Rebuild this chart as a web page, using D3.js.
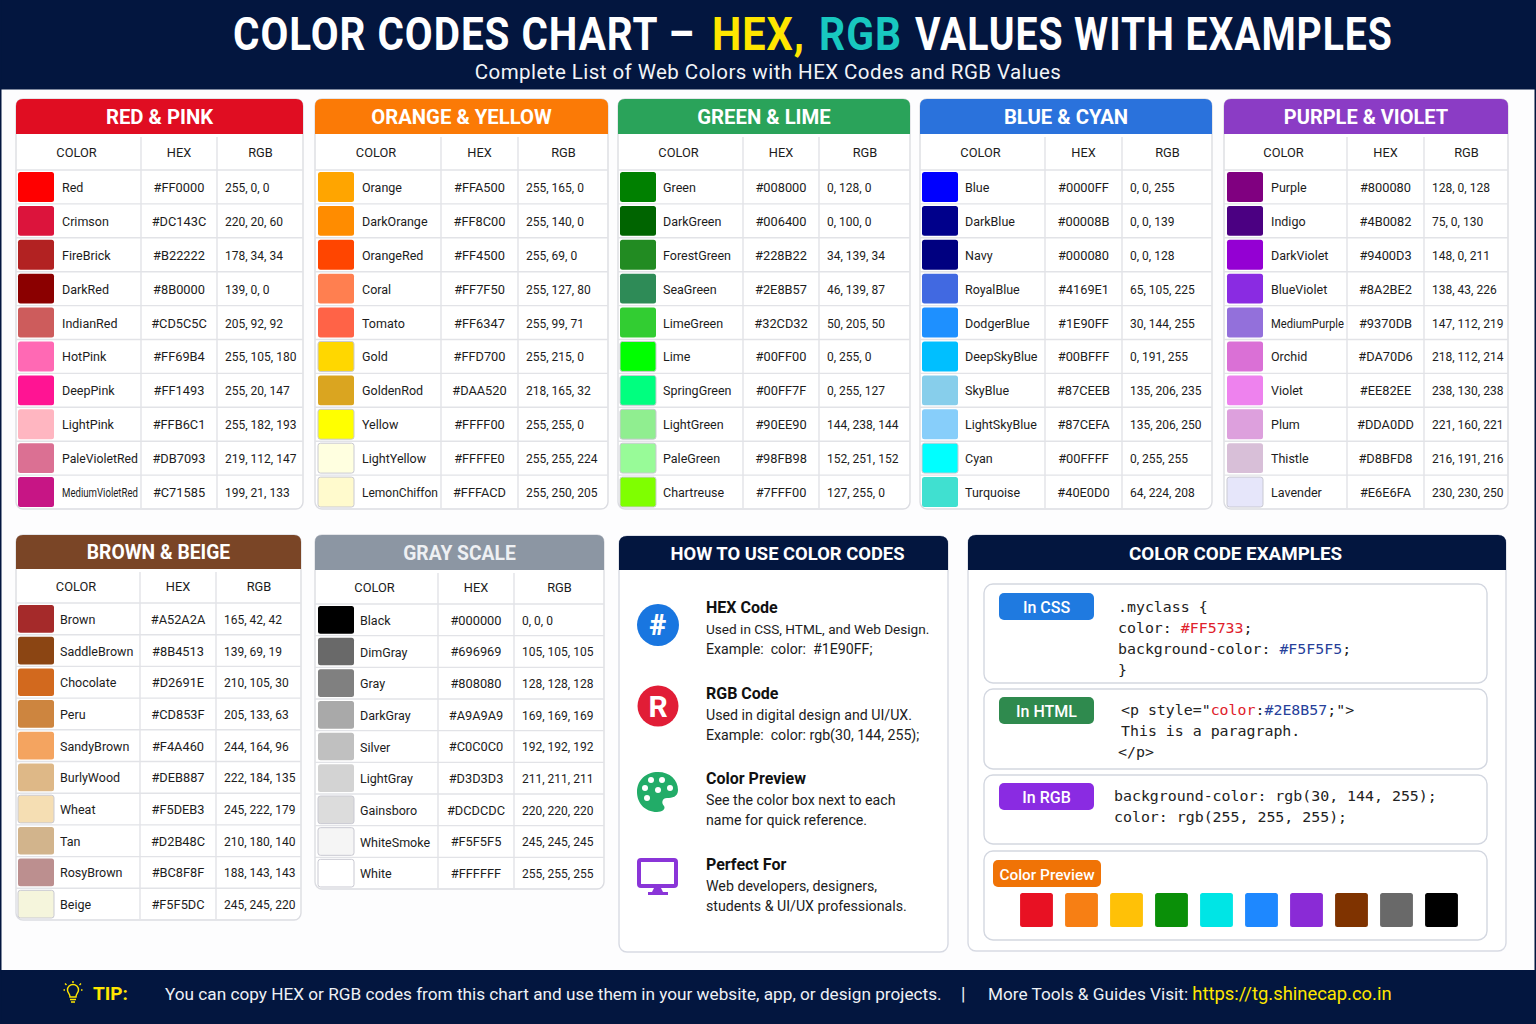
<!DOCTYPE html>
<html>
<head>
<meta charset="utf-8">
<script src="https://cdn.jsdelivr.net/npm/d3@7"></script>
<style>
  html, body { margin: 0; padding: 0; background: #fdfdfe; }
  svg { display: block; font-family: Roboto, sans-serif; }
  .code { font-family: "DejaVu Sans Mono", monospace; font-size: 14.9px; fill: #222; }
</style>
</head>
<body>
<div id="chart"></div>
<script>
// ---- data ----
var columnLabels = ["COLOR", "HEX", "RGB"];

var redNames = ["Red", "Crimson", "FireBrick", "DarkRed", "IndianRed", "HotPink", "DeepPink", "LightPink", "PaleVioletRed", "MediumVioletRed"];
var redHex = ["#FF0000", "#DC143C", "#B22222", "#8B0000", "#CD5C5C", "#FF69B4", "#FF1493", "#FFB6C1", "#DB7093", "#C71585"];
var redRgb = ["255, 0, 0", "220, 20, 60", "178, 34, 34", "139, 0, 0", "205, 92, 92", "255, 105, 180", "255, 20, 147", "255, 182, 193", "219, 112, 147", "199, 21, 133"];

var orangeNames = ["Orange", "DarkOrange", "OrangeRed", "Coral", "Tomato", "Gold", "GoldenRod", "Yellow", "LightYellow", "LemonChiffon"];
var orangeHex = ["#FFA500", "#FF8C00", "#FF4500", "#FF7F50", "#FF6347", "#FFD700", "#DAA520", "#FFFF00", "#FFFFE0", "#FFFACD"];
var orangeRgb = ["255, 165, 0", "255, 140, 0", "255, 69, 0", "255, 127, 80", "255, 99, 71", "255, 215, 0", "218, 165, 32", "255, 255, 0", "255, 255, 224", "255, 250, 205"];

var greenNames = ["Green", "DarkGreen", "ForestGreen", "SeaGreen", "LimeGreen", "Lime", "SpringGreen", "LightGreen", "PaleGreen", "Chartreuse"];
var greenHex = ["#008000", "#006400", "#228B22", "#2E8B57", "#32CD32", "#00FF00", "#00FF7F", "#90EE90", "#98FB98", "#7FFF00"];
var greenRgb = ["0, 128, 0", "0, 100, 0", "34, 139, 34", "46, 139, 87", "50, 205, 50", "0, 255, 0", "0, 255, 127", "144, 238, 144", "152, 251, 152", "127, 255, 0"];

var blueNames = ["Blue", "DarkBlue", "Navy", "RoyalBlue", "DodgerBlue", "DeepSkyBlue", "SkyBlue", "LightSkyBlue", "Cyan", "Turquoise"];
var blueHex = ["#0000FF", "#00008B", "#000080", "#4169E1", "#1E90FF", "#00BFFF", "#87CEEB", "#87CEFA", "#00FFFF", "#40E0D0"];
var blueRgb = ["0, 0, 255", "0, 0, 139", "0, 0, 128", "65, 105, 225", "30, 144, 255", "0, 191, 255", "135, 206, 235", "135, 206, 250", "0, 255, 255", "64, 224, 208"];

var purpleNames = ["Purple", "Indigo", "DarkViolet", "BlueViolet", "MediumPurple", "Orchid", "Violet", "Plum", "Thistle", "Lavender"];
var purpleHex = ["#800080", "#4B0082", "#9400D3", "#8A2BE2", "#9370DB", "#DA70D6", "#EE82EE", "#DDA0DD", "#D8BFD8", "#E6E6FA"];
var purpleRgb = ["128, 0, 128", "75, 0, 130", "148, 0, 211", "138, 43, 226", "147, 112, 219", "218, 112, 214", "238, 130, 238", "221, 160, 221", "216, 191, 216", "230, 230, 250"];

var brownNames = ["Brown", "SaddleBrown", "Chocolate", "Peru", "SandyBrown", "BurlyWood", "Wheat", "Tan", "RosyBrown", "Beige"];
var brownHex = ["#A52A2A", "#8B4513", "#D2691E", "#CD853F", "#F4A460", "#DEB887", "#F5DEB3", "#D2B48C", "#BC8F8F", "#F5F5DC"];
var brownRgb = ["165, 42, 42", "139, 69, 19", "210, 105, 30", "205, 133, 63", "244, 164, 96", "222, 184, 135", "245, 222, 179", "210, 180, 140", "188, 143, 143", "245, 245, 220"];

var grayNames = ["Black", "DimGray", "Gray", "DarkGray", "Silver", "LightGray", "Gainsboro", "WhiteSmoke", "White"];
var grayHex = ["#000000", "#696969", "#808080", "#A9A9A9", "#C0C0C0", "#D3D3D3", "#DCDCDC", "#F5F5F5", "#FFFFFF"];
var grayRgb = ["0, 0, 0", "105, 105, 105", "128, 128, 128", "169, 169, 169", "192, 192, 192", "211, 211, 211", "220, 220, 220", "245, 245, 245", "255, 255, 255"];

var previewColors = ["#E81123", "#F77F14", "#FFC107", "#0A8F08", "#00E5E5", "#1E88FF", "#8A2BD6", "#7F3300", "#696969", "#000000"];

var howTitles = ["HEX Code", "RGB Code", "Color Preview", "Perfect For"];
var howLines1 = ["Used in CSS, HTML, and Web Design.", "Used in digital design and UI/UX.", "See the color box next to each", "Web developers, designers,"];
var howLines2 = ["Example:  color:  #1E90FF;", "Example:  color: rgb(30, 144, 255);", "name for quick reference.", "students & UI/UX professionals."];

var titleParts = ["COLOR CODES CHART –", "HEX,", "RGB", "VALUES WITH EXAMPLES"];

// ---- page ----
var navy = "#03163f";
var svg = d3.select("#chart").append("svg")
  .attr("width", 1536)
  .attr("height", 1024);

svg.append("rect").attr("width", 1536).attr("height", 1024).attr("fill", "#fdfdfe");

// top banner
svg.append("rect").attr("width", 1536).attr("height", 89.5).attr("fill", navy);

// the title is condensed, so every part gets stretched onto its own span
var titleFills = ["#fff", "#ffe600", "#18c8c0", "#fff"];
var titleSpans = [[233, 695], [712, 805], [819, 902], [915, 1393]];
svg.selectAll("text.title").data(titleParts).enter().append("text")
  .attr("class", "title")
  .attr("font-size", 46)
  .attr("font-weight", 700)
  .attr("letter-spacing", 1.1)
  .attr("fill", function(d, i) { return titleFills[i]; })
  .text(function(d) { return d; })
  .each(function(d, i) {
    var w = this.getComputedTextLength(), s = titleSpans[i];
    d3.select(this).attr("transform", "translate(" + s[0] + ",50) scale(" + ((s[1] - s[0]) / w) + ",1)");
  });

svg.append("text")
  .attr("x", 768).attr("y", 79)
  .attr("text-anchor", "middle")
  .attr("font-size", 20.5)
  .attr("letter-spacing", 0.45)
  .attr("fill", "#f2f4f8")
  .text("Complete List of Web Colors with HEX Codes and RGB Values");

// ---- colour tables ----
var tables = [
  {title: "RED & PINK", fill: "#e00d22", names: redNames, hex: redHex, rgb: redRgb, x0: 16, x1: 303, c1: 141, c2: 217, y0: 99, y1: 134, y2: 170, y3: 509, sx: 18, nx: 62, ts: 20.3},
  {title: "ORANGE & YELLOW", fill: "#fb7a06", names: orangeNames, hex: orangeHex, rgb: orangeRgb, x0: 315, x1: 608, c1: 441, c2: 518, y0: 99, y1: 134, y2: 170, y3: 509, sx: 318, nx: 362, ts: 20.3},
  {title: "GREEN & LIME", fill: "#2aa35a", names: greenNames, hex: greenHex, rgb: greenRgb, x0: 618, x1: 910, c1: 743, c2: 819, y0: 99, y1: 134, y2: 170, y3: 509, sx: 620, nx: 663, ts: 20.3},
  {title: "BLUE & CYAN", fill: "#2a72dc", names: blueNames, hex: blueHex, rgb: blueRgb, x0: 920, x1: 1212, c1: 1045, c2: 1122, y0: 99, y1: 134, y2: 170, y3: 509, sx: 922, nx: 965, ts: 20.3},
  {title: "PURPLE & VIOLET", fill: "#8b3cc5", names: purpleNames, hex: purpleHex, rgb: purpleRgb, x0: 1224, x1: 1508, c1: 1347, c2: 1424, y0: 99, y1: 134, y2: 170, y3: 509, sx: 1227, nx: 1271, ts: 20},
  {title: "BROWN & BEIGE", fill: "#7a4526", names: brownNames, hex: brownHex, rgb: brownRgb, x0: 16, x1: 301, c1: 140, c2: 216, y0: 535, y1: 569, y2: 603, y3: 920, sx: 18, nx: 60, ts: 19.3},
  {title: "GRAY SCALE", fill: "#8c96a3", titleFill: "#eef0f3", names: grayNames, hex: grayHex, rgb: grayRgb, x0: 315, x1: 604, c1: 438, c2: 514, y0: 535, y1: 570, y2: 604, y3: 889, sx: 318, nx: 360, ts: 19.3}
];

// rounded top or bottom corners
function panelHead(x0, x1, y0, y1, r) {
  return "M" + x0 + "," + y1 + "V" + (y0 + r) + "Q" + x0 + "," + y0 + " " + (x0 + r) + "," + y0 +
    "H" + (x1 - r) + "Q" + x1 + "," + y0 + " " + x1 + "," + (y0 + r) + "V" + y1 + "Z";
}

function drawTable(t) {
  var g = svg.append("g");
  var line = "#e2e3e7";

  g.append("rect")
    .attr("x", t.x0).attr("y", t.y0)
    .attr("width", t.x1 - t.x0).attr("height", t.y3 - t.y0)
    .attr("rx", 7)
    .attr("fill", "#fff").attr("stroke", "#dcdde2").attr("stroke-width", 1.4);

  g.append("path").attr("d", panelHead(t.x0, t.x1, t.y0, t.y1, 7)).attr("fill", t.fill);
  g.append("text")
    .attr("x", (t.x0 + t.x1) / 2).attr("y", t.y1 - 10.5)
    .attr("text-anchor", "middle")
    .attr("font-size", t.ts).attr("font-weight", 700)
    .attr("fill", t.titleFill || "#fff")
    .text(t.title);

  var y = d3.scaleBand().domain(t.names).range([t.y2, t.y3]);

  // grid
  g.selectAll("line.row").data(t.names).enter().append("line")
    .attr("class", "row")
    .attr("x1", t.x0).attr("x2", t.x1)
    .attr("y1", function(d) { return y(d); })
    .attr("y2", function(d) { return y(d); })
    .attr("stroke", line).attr("stroke-width", 1.4);
  g.selectAll("line.col").data([t.c1, t.c2]).enter().append("line")
    .attr("class", "col")
    .attr("x1", function(d) { return d; }).attr("x2", function(d) { return d; })
    .attr("y1", t.y1 + 3).attr("y2", t.y3 - 1)
    .attr("stroke", line).attr("stroke-width", 1.4);

  // column heads
  var heads = [(t.x0 + t.c1) / 2 - 2, (t.c1 + t.c2) / 2, (t.c2 + t.x1) / 2 + 0.5];
  g.selectAll("text.head").data(columnLabels).enter().append("text")
    .attr("class", "head")
    .attr("x", function(d, i) { return heads[i]; })
    .attr("y", (t.y1 + t.y2) / 2 + 5)
    .attr("text-anchor", "middle")
    .attr("font-size", 12.8)
    .attr("fill", "#1c1c1c")
    .text(function(d) { return d; });

  // rows
  var rows = g.selectAll("g.item").data(t.names).enter().append("g")
    .attr("class", "item")
    .attr("transform", function(d) { return "translate(0," + y(d) + ")"; });

  rows.append("rect")
    .attr("x", t.sx).attr("y", 2)
    .attr("width", 36).attr("height", y.bandwidth() - 4)
    .attr("rx", 2.5)
    .attr("fill", function(d, i) { return t.hex[i]; })
    .attr("stroke", function(d, i) { return d3.lab(t.hex[i]).l > 85 ? "#c9c9d2" : "none"; });

  var nameY = y.bandwidth() / 2 + 5;
  rows.append("text")
    .attr("font-size", 12.5)
    .attr("fill", "#1c1c1c")
    .text(function(d) { return d; })
    .each(function() {
      // long names get condensed to fit the column, same height
      var room = t.c1 - t.nx - 3, w = this.getComputedTextLength();
      var squeeze = w > room ? " scale(" + (room / w) + ",1)" : "";
      d3.select(this).attr("transform", "translate(" + t.nx + "," + nameY + ")" + squeeze);
    });

  rows.append("text")
    .attr("x", (t.c1 + t.c2) / 2).attr("y", y.bandwidth() / 2 + 5)
    .attr("text-anchor", "middle")
    .attr("font-size", 12.8)
    .attr("fill", "#1c1c1c")
    .text(function(d, i) { return t.hex[i]; });

  rows.append("text")
    .attr("x", t.c2 + 8).attr("y", y.bandwidth() / 2 + 5)
    .attr("font-size", 12)
    .attr("fill", "#1c1c1c")
    .text(function(d, i) { return t.rgb[i]; });
}
tables.forEach(drawTable);

// ---- how to use panel ----
function darkPanel(x0, x1, y0, y1, y2, label, cx, size) {
  svg.append("rect")
    .attr("x", x0).attr("y", y0).attr("width", x1 - x0).attr("height", y2 - y0)
    .attr("rx", 8)
    .attr("fill", "#fff").attr("stroke", "#d7dae3").attr("stroke-width", 1.4);
  svg.append("path").attr("d", panelHead(x0, x1, y0, y1, 8)).attr("fill", navy);
  svg.append("text")
    .attr("x", cx).attr("y", y1 - 10)
    .attr("text-anchor", "middle")
    .attr("font-size", size).attr("font-weight", 700)
    .attr("fill", "#fff")
    .text(label);
}
darkPanel(619, 948, 536, 570, 952, "HOW TO USE COLOR CODES", 787.5, 18.4);

var howY = d3.scalePoint().domain(howTitles).range([613, 870]);
var how = svg.selectAll("g.how").data(howTitles).enter().append("g")
  .attr("class", "how")
  .attr("transform", function(d) { return "translate(706," + howY(d) + ")"; });
how.append("text").attr("font-size", 16).attr("font-weight", 700).attr("fill", "#111")
  .text(function(d) { return d; });
how.append("text").attr("y", 21)
  .attr("font-size", function(d, i) { return i == 0 ? 13.6 : 14.2; })
  .attr("fill", "#1c1c1c")
  .text(function(d, i) { return howLines1[i]; });
how.append("text").attr("y", 41).attr("font-size", 14.2).attr("fill", "#1c1c1c")
  .attr("xml:space", "preserve")
  .text(function(d, i) { return howLines2[i]; });

// hex icon
svg.append("circle").attr("cx", 658).attr("cy", 625).attr("r", 21).attr("fill", "#1976e0");
svg.append("text").attr("x", 658).attr("y", 635).attr("text-anchor", "middle")
  .attr("font-size", 29).attr("font-weight", 900).attr("fill", "#fff").text("#");
// rgb icon
svg.append("circle").attr("cx", 658).attr("cy", 706).attr("r", 20.5).attr("fill", "#e11d36");
svg.append("text").attr("x", 658).attr("y", 717).attr("text-anchor", "middle")
  .attr("font-size", 30).attr("font-weight", 700).attr("fill", "#fff").text("R");
// palette icon
svg.append("path")
  .attr("d", "M658,772 C670,772 678,780 678,790 C678,797 672,798 667,798 C662,798 661,803 664,806 C666,809 662,812 657,812 C645,812 637,803 637,792 C637,780 646,772 658,772 Z")
  .attr("fill", "#22ac68");
var paletteDots = [[645, 788], [651, 780], [662, 780], [670, 788], [658, 790], [647, 798]];
svg.selectAll("circle.dot").data(paletteDots).enter().append("circle")
  .attr("class", "dot")
  .attr("cx", function(d) { return d[0]; }).attr("cy", function(d) { return d[1]; })
  .attr("r", 3).attr("fill", "#fff");
// monitor icon
svg.append("rect").attr("x", 639).attr("y", 860).attr("width", 37).attr("height", 26).attr("rx", 2)
  .attr("fill", "#fff").attr("stroke", "#8a35d8").attr("stroke-width", 4);
svg.append("path").attr("d", "M654,888 H661 L663,892 H668 V895 H648 V892 H652 Z").attr("fill", "#8a35d8");

// ---- examples panel ----
darkPanel(968, 1506, 535, 570, 951, "COLOR CODE EXAMPLES", 1235.5, 18.8);

var exampleBoxes = [
  {y0: 584, y1: 683, badge: "In CSS", fill: "#1f7ae0", by: 593, bx: 999, bw: 95, size: 16},
  {y0: 689, y1: 769, badge: "In HTML", fill: "#2f8a4e", by: 697, bx: 999, bw: 95, size: 16},
  {y0: 775, y1: 844, badge: "In RGB", fill: "#8a2be2", by: 783, bx: 999, bw: 95, size: 16},
  {y0: 851, y1: 940, badge: "Color Preview", fill: "#f07306", by: 860, bx: 993, bw: 108, size: 15.4}
];
exampleBoxes.forEach(function(b) {
  svg.append("rect").attr("x", 984).attr("y", b.y0).attr("width", 503).attr("height", b.y1 - b.y0)
    .attr("rx", 9).attr("fill", "#fff").attr("stroke", "#d3d7e0").attr("stroke-width", 1.4);
  svg.append("rect").attr("x", b.bx).attr("y", b.by).attr("width", b.bw).attr("height", 27)
    .attr("rx", 5).attr("fill", b.fill);
  svg.append("text").attr("x", b.bx + b.bw / 2).attr("y", b.by + 19.5)
    .attr("text-anchor", "middle").attr("font-size", b.size).attr("font-weight", 500)
    .attr("fill", "#fff").text(b.badge);
});

var red = "#e0202a", blue = "#26409a";
var codeLines = [
  {x: 1118, y: 611.5, parts: [[".myclass {"]]},
  {x: 1118, y: 632.5, parts: [["color: "], ["#FF5733", red], [";"]]},
  {x: 1118, y: 653.5, parts: [["background-color: "], ["#F5F5F5", blue], [";"]]},
  {x: 1118, y: 674.5, parts: [["}"]]},
  {x: 1121, y: 715, parts: [["<p style=\""], ["color", red], [":"], ["#2E8B57", blue], [";\">"]]},
  {x: 1121, y: 736, parts: [["This is a paragraph."]]},
  {x: 1118, y: 757, parts: [["</p>"]]},
  {x: 1114, y: 801, parts: [["background-color: rgb(30, 144, 255);"]]},
  {x: 1114, y: 822, parts: [["color: rgb(255, 255, 255);"]]}
];
codeLines.forEach(function(l) {
  var t = svg.append("text").attr("class", "code").attr("x", l.x).attr("y", l.y).attr("xml:space", "preserve");
  l.parts.forEach(function(p) {
    var s = t.append("tspan").text(p[0]);
    if (p[1]) s.style("fill", p[1]);
  });
});

var previewX = d3.scaleBand()
  .domain(d3.range(previewColors.length))
  .range([1014, 1464])
  .paddingInner(0.27)
  .paddingOuter(0.135);
svg.selectAll("rect.preview").data(previewColors).enter().append("rect")
  .attr("class", "preview")
  .attr("x", function(d, i) { return previewX(i); })
  .attr("y", 893)
  .attr("width", previewX.bandwidth())
  .attr("height", 34)
  .attr("rx", 2.5)
  .attr("fill", function(d) { return d; });

// ---- footer ----
svg.append("rect").attr("y", 970).attr("width", 1536).attr("height", 54).attr("fill", navy);
// page edges
svg.append("rect").attr("width", 1.5).attr("height", 1024).attr("fill", navy);
svg.append("rect").attr("x", 1534.5).attr("width", 1.5).attr("height", 1024).attr("fill", navy);

var bulb = svg.append("g").attr("fill", "none").attr("stroke", "#ffe600").attr("stroke-width", 1.4);
bulb.append("path").attr("d", "M70,997 C70,993.5 67.5,993 67.5,990 A5.5,5.5 0 0 1 78.5,990 C78.5,993 76,993.5 76,997 Z");
bulb.append("path").attr("d", "M70,999.5 H76 M71,1002 H75 M73,983 V981 M66.5,985 L65,983.5 M79.5,985 L81,983.5 M65,990 H63.5 M81,990 H82.5");

svg.append("text").attr("x", 93).attr("y", 1000)
  .attr("font-size", 19).attr("font-weight", 700).attr("fill", "#ffe600").text("TIP:");

var footerText = "#eef1f6";
svg.append("text").attr("x", 165).attr("y", 1000).attr("font-size", 17.2).attr("fill", footerText)
  .text("You can copy HEX or RGB codes from this chart and use them in your website, app, or design projects.");
svg.append("text").attr("x", 961).attr("y", 1000).attr("font-size", 18).attr("fill", footerText).text("|");
var visit = svg.append("text").attr("x", 988).attr("y", 1000).attr("font-size", 17.2).attr("fill", footerText);
visit.append("tspan").text("More Tools & Guides Visit: ");
visit.append("tspan").attr("fill", "#ffe600").attr("font-size", 18.4).text("https://tg.shinecap.co.in");
</script>
</body>
</html>
